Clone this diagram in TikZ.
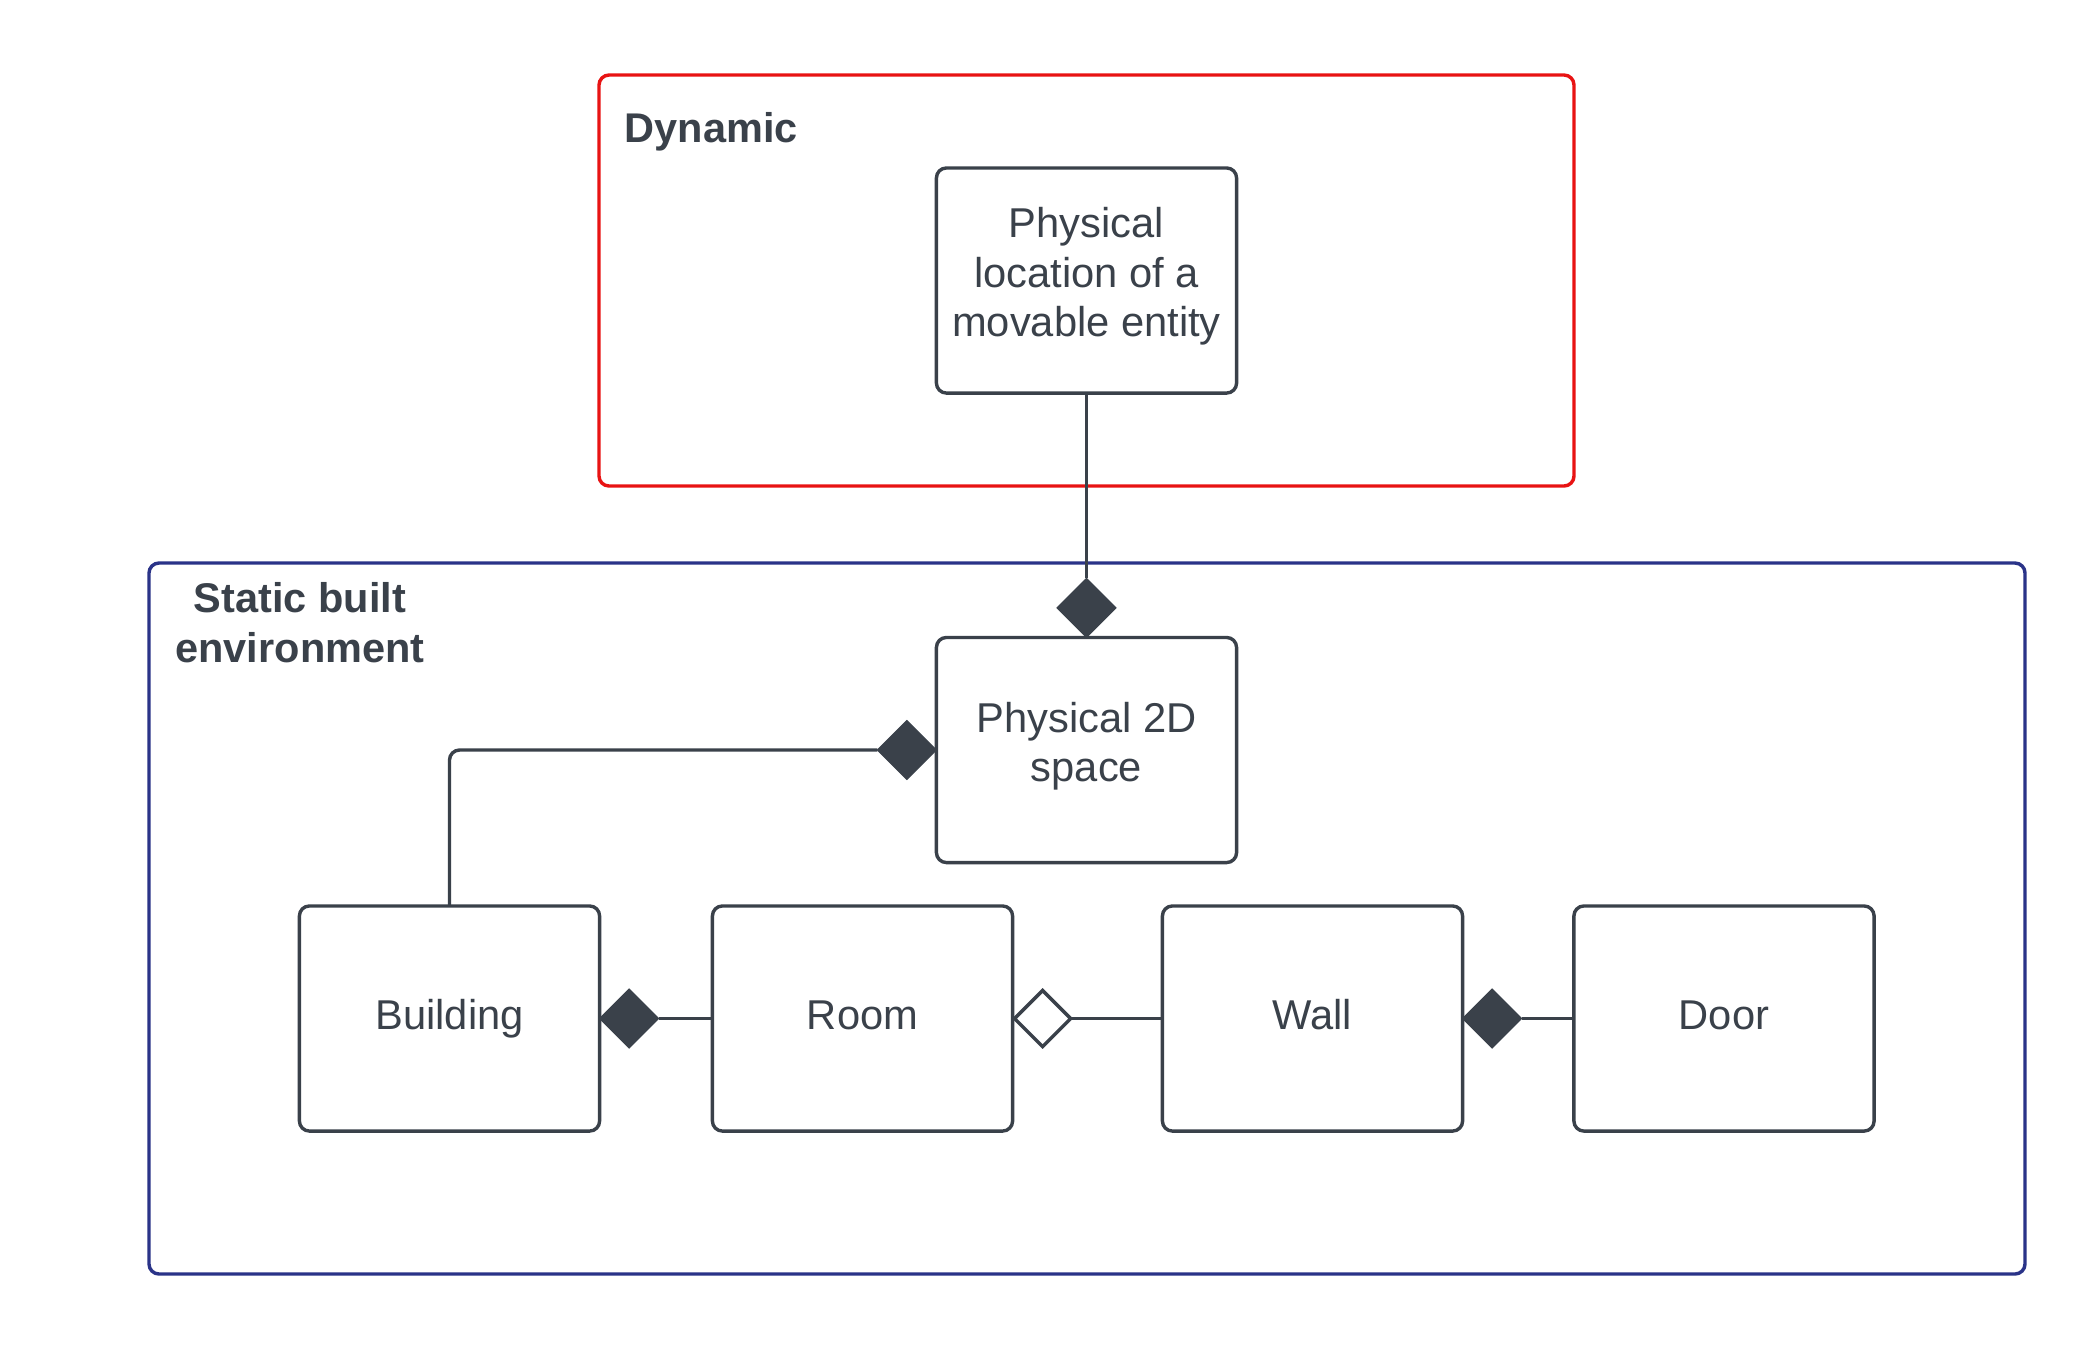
\documentclass[tikz,border=0pt]{standalone}
\usepackage{fontspec}
\setmainfont{Liberation Sans}
\usetikzlibrary{shapes.geometric}
\definecolor{ink}{HTML}{3A414A}
\definecolor{redframe}{HTML}{E81313}
\definecolor{blueframe}{HTML}{2A3388}
\tikzset{
  umlbox/.style={draw=ink, line width=0.034cm, rounded corners=0.1cm, fill=white,
    minimum width=3cm, minimum height=2.25cm, inner sep=0pt, outer sep=0pt,
    align=center, text=ink, font=\fontsize{11.85pt}{14.2pt}\selectfont},
  frame/.style={line width=0.034cm, rounded corners=0.1cm},
  grouplabel/.style={text=ink, font=\fontsize{11.8pt}{14.1pt}\selectfont\bfseries, inner sep=0pt, align=center},
  comp/.style={diamond, aspect=1, fill=ink, draw=ink, line width=0.01cm, minimum width=0.59cm, minimum height=0.59cm, inner sep=0pt, outer sep=0pt},
  aggr/.style={diamond, aspect=1, fill=white, draw=ink, line width=0.034cm, minimum width=0.56cm, minimum height=0.56cm, inner sep=0pt, outer sep=0pt},
  link/.style={draw=ink, line width=0.034cm}
}
\begin{document}
\begin{tikzpicture}[x=0.01cm, y=-0.01cm]
\useasboundingbox[fill=white] (0,0) rectangle (2100,1350);
% frames
\draw[frame, draw=redframe] (599,75) rectangle (1574,486);
\draw[frame, draw=blueframe] (149,563) rectangle (2025,1274);
\node[grouplabel, anchor=base west] (dyn) at (624,142) {Dynamic};
\node[grouplabel] (sbe) at (300,622.5) {Static built\\environment};
% boxes
\node[umlbox] (pl) at (1086.5,280.5) {\raisebox{0.035cm}[\height][\depth]{\parbox{3cm}{\centering\strut Physical\\location of a\\movable entity\strut}}};
\node[umlbox] (ps) at (1086.5,750) {\raisebox{0.03cm}[\height][\depth]{\parbox{3cm}{\centering\strut Physical 2D\\space\strut}}};
\node[umlbox] (bu) at (449.5,1018.5) {\raisebox{-0.01cm}[\height][\depth]{\strut Building}};
\node[umlbox] (ro) at (862.5,1018.5) {\raisebox{-0.01cm}[\height][\depth]{\strut Room}};
\node[umlbox] (wa) at (1312.5,1018.5) {\raisebox{-0.01cm}[\height][\depth]{\strut Wall}};
\node[umlbox] (do) at (1724,1018.5) {\raisebox{-0.01cm}[\height][\depth]{\strut Door}};
% diamonds
\node[comp, anchor=south] (d1) at (ps.north) {};
\node[comp, anchor=east] (d2) at (ps.west) {};
\node[comp, anchor=west] (d3) at (bu.east) {};
\node[aggr, anchor=west, xshift=0.02cm] (d4) at (ro.east) {};
\node[comp, anchor=west] (d5) at (wa.east) {};
% connectors
\draw[link] (pl.south) -- (d1.north);
\draw[link, rounded corners=0.1cm] (d2.west) -| (bu.north);
\draw[link] (d3.east) -- (ro.west);
\draw[link] (d4.east) -- (wa.west);
\draw[link] (d5.east) -- (do.west);
\end{tikzpicture}
\end{document}
